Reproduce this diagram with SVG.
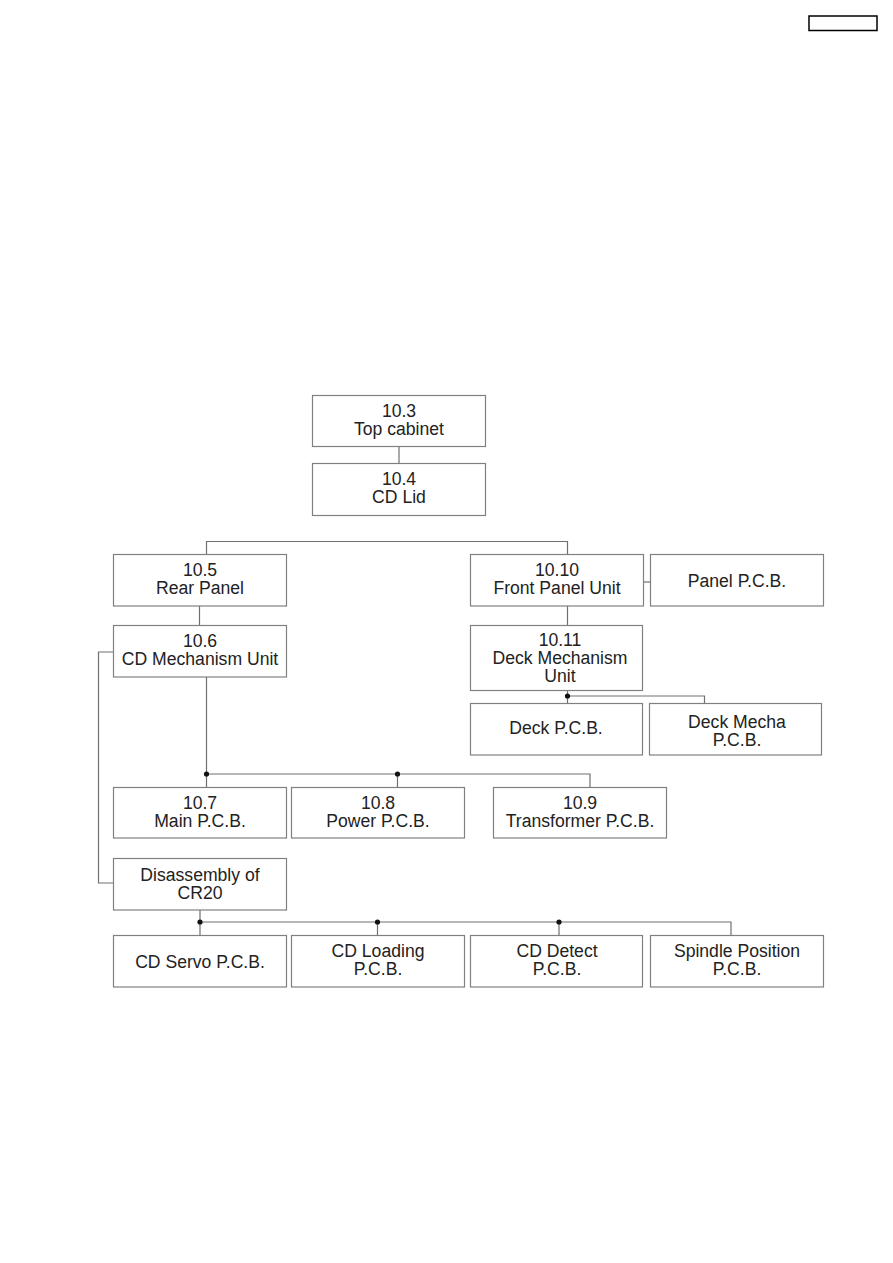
<svg xmlns="http://www.w3.org/2000/svg" width="893" height="1263" viewBox="0 0 893 1263">
<style>
.box{fill:#fff;stroke:#808080;stroke-width:1.2}
.t{font-family:"Liberation Sans",Arial,sans-serif;font-size:17.6px;fill:#222;text-anchor:middle}
.c{fill:none;stroke:#707070;stroke-width:1.2}
.d{fill:#111}
</style>
<rect width="893" height="1263" fill="#fff"/>
<rect x="809" y="16" width="68" height="14.5" fill="#fff" stroke="#000" stroke-width="1.5"/>
<g id="connectors">
<path class="c" d="M399 446V463"/>
<path class="c" d="M206.5 554V541.5H567.5V554"/>
<path class="c" d="M199.5 606V625"/>
<path class="c" d="M567.5 606V625"/>
<path class="c" d="M643 582H650"/>
<path class="c" d="M567.5 690V703M567.5 696H704.5V703"/>
<path class="c" d="M113 652H98.5V883H113"/>
<path class="c" d="M206.5 677V787M206.5 774H590V787M397.5 774V787"/>
<path class="c" d="M200 910V935M200 922H731V935M377.5 922V935M559 922V935"/>
<circle class="d" cx="567.5" cy="696" r="2.6"/>
<circle class="d" cx="206.5" cy="774" r="2.6"/>
<circle class="d" cx="397.5" cy="774" r="2.6"/>
<circle class="d" cx="200" cy="922" r="2.6"/>
<circle class="d" cx="377.5" cy="922" r="2.6"/>
<circle class="d" cx="559" cy="922" r="2.6"/>
</g>
<g id="n103"><rect class="box" x="312.5" y="395.5" width="173" height="51"/><text class="t" x="399" y="416.5">10.3</text><text class="t" x="399" y="434.5">Top cabinet</text></g>
<g id="n104"><rect class="box" x="312.5" y="463.5" width="173" height="52"/><text class="t" x="399" y="485">10.4</text><text class="t" x="399" y="503">CD Lid</text></g>
<g id="n105"><rect class="box" x="113.5" y="554.5" width="173" height="51.5"/><text class="t" x="200" y="576">10.5</text><text class="t" x="200" y="594">Rear Panel</text></g>
<g id="n106"><rect class="box" x="113.5" y="625.5" width="173" height="51.5"/><text class="t" x="200" y="647">10.6</text><text class="t" x="200" y="665">CD Mechanism Unit</text></g>
<g id="n1010"><rect class="box" x="470.5" y="554.5" width="173" height="51.5"/><text class="t" x="557" y="576">10.10</text><text class="t" x="557" y="594">Front Panel Unit</text></g>
<g id="npanel"><rect class="box" x="650.5" y="554.5" width="173" height="51.5"/><text class="t" x="737" y="587">Panel P.C.B.</text></g>
<g id="n1011"><rect class="box" x="470.5" y="625.5" width="172" height="65"/><text class="t" x="560" y="646">10.11</text><text class="t" x="560" y="664">Deck Mechanism</text><text class="t" x="560" y="682">Unit</text></g>
<g id="ndeckpcb"><rect class="box" x="470.5" y="703.5" width="172" height="51.5"/><text class="t" x="556" y="734">Deck P.C.B.</text></g>
<g id="ndeckmecha"><rect class="box" x="649.5" y="703.5" width="172" height="51.5"/><text class="t" x="737" y="728">Deck Mecha</text><text class="t" x="737" y="746">P.C.B.</text></g>
<g id="n107"><rect class="box" x="113.5" y="787.5" width="173" height="50.5"/><text class="t" x="200" y="808.5">10.7</text><text class="t" x="200" y="826.5">Main P.C.B.</text></g>
<g id="n108"><rect class="box" x="291.5" y="787.5" width="173" height="50.5"/><text class="t" x="378" y="808.5">10.8</text><text class="t" x="378" y="826.5">Power P.C.B.</text></g>
<g id="n109"><rect class="box" x="493.5" y="787.5" width="173" height="50.5"/><text class="t" x="580" y="808.5">10.9</text><text class="t" x="580" y="826.5">Transformer P.C.B.</text></g>
<g id="ncr20"><rect class="box" x="113.5" y="858.5" width="173" height="51.5"/><text class="t" x="200" y="880.5">Disassembly of</text><text class="t" x="200" y="898.5">CR20</text></g>
<g id="nservo"><rect class="box" x="113.5" y="935.5" width="173" height="51.5"/><text class="t" x="200" y="967.5">CD Servo P.C.B.</text></g>
<g id="nloading"><rect class="box" x="291.5" y="935.5" width="173" height="51.5"/><text class="t" x="378" y="957">CD Loading</text><text class="t" x="378" y="975">P.C.B.</text></g>
<g id="ndetect"><rect class="box" x="470.5" y="935.5" width="172" height="51.5"/><text class="t" x="557" y="957">CD Detect</text><text class="t" x="557" y="975">P.C.B.</text></g>
<g id="nspindle"><rect class="box" x="650.5" y="935.5" width="173" height="51.5"/><text class="t" x="737" y="957">Spindle Position</text><text class="t" x="737" y="975">P.C.B.</text></g>
</svg>
